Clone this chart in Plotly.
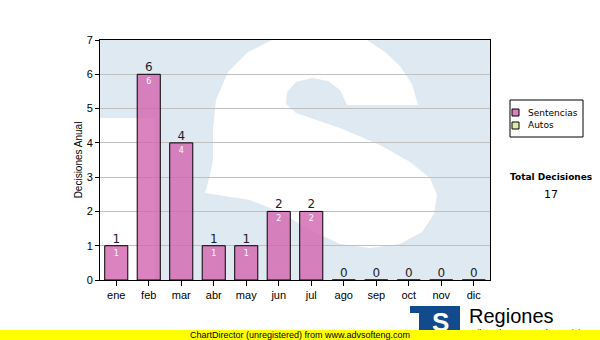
import plotly.graph_objects as go

# ---------------- data ----------------
months = ['ene', 'feb', 'mar', 'abr', 'may', 'jun', 'jul', 'ago', 'sep', 'oct', 'nov', 'dic']
sentencias = [1, 6, 4, 1, 1, 2, 2, 0, 0, 0, 0, 0]
autos = [0, 0, 0, 0, 0, 0, 0, 0, 0, 0, 0, 0]
series_names = ['Sentencias', 'Autos']
y_ticks = [0, 1, 2, 3, 4, 5, 6, 7]
y_title = 'Decisiones Anual'
total_title = 'Total Decisiones'
logo_text = 'Regiones'
logo_sub = 'Tribunal Supremo de Justicia'
footer_text = 'ChartDirector (unregistered) from www.advsofteng.com'

# ---------------- styles ----------------
W, H = 600, 340
L, R, T, B = 100, 110, 40, 60
PINK = 'rgba(210,100,175,0.80)'
PINK_SOLID = '#db7fbd'
GREEN = '#dcebaa'
WATER = '#dfe9f2'
TXT = '#1c1c2c'
SANS = 'Liberation Sans, Arial, sans-serif'
VERD = 'DejaVu Sans, Verdana, sans-serif'


def px(x):
    return (x - L) / (W - L - R)


def py(y):
    return (H - B - y) / (H - T - B)


def poly(points):
    return 'M ' + ' L '.join(f'{px(x):.5f},{py(y):.5f}' for x, y in points) + ' Z'


fig = go.Figure()

fig.add_trace(go.Bar(
    x=months, y=sentencias, name=series_names[0], showlegend=False,
    marker=dict(color=PINK, line=dict(color='black', width=1)),
    text=[str(v) if v > 0 else '' for v in sentencias],
    textposition='inside', insidetextanchor='end', textangle=0, constraintext='none',
    insidetextfont=dict(family=VERD, size=8, color='white'),
    hoverinfo='skip'))
fig.add_trace(go.Bar(
    x=months, y=autos, name=series_names[1], showlegend=False,
    marker=dict(color=GREEN, line=dict(color='black', width=0)),
    hoverinfo='skip'))

# value labels above bars
fig.add_trace(go.Scatter(
    x=months, y=sentencias, mode='text', showlegend=False, cliponaxis=False,
    text=[str(v) for v in sentencias], textposition='top center',
    textfont=dict(family=VERD, size=12, color=TXT), hoverinfo='skip'))

shapes = []
# watermark: light-blue "T" square with white S stroke
shapes.append(dict(type='path', xref='paper', yref='paper', layer='below',
                   path=poly([(100, 40), (490, 40), (490, 280), (155, 280), (155, 118), (100, 118)]),
                   fillcolor=WATER, line=dict(width=0)))
shapes.append(dict(type='path', xref='paper', yref='paper', layer='below',
                   path=poly([(272, 40), (367, 40), (385, 52), (400, 66), (412, 84), (418, 105),
                              (347, 105), (340, 90), (328, 81), (312, 78), (296, 82), (287, 92),
                              (286, 104), (296, 113), (340, 128), (380, 145), (410, 162), (430, 178),
                              (437, 195), (434, 214), (422, 232), (400, 244), (370, 248), (340, 244),
                              (310, 230), (280, 212), (250, 200), (205, 193), (210, 175), (213, 160),
                              (213, 130), (216, 100), (228, 72), (248, 52)]),
                   fillcolor='white', line=dict(width=0)))

# legend (manual)
shapes.append(dict(type='rect', xref='paper', yref='paper', x0=px(510), x1=px(583), y0=py(100), y1=py(137),
                   line=dict(color='black', width=1), fillcolor='white'))
leg_colors = [PINK_SOLID, GREEN]
annotations = []
for i, (nm, col) in enumerate(zip(series_names, leg_colors)):
    yc = 112.5 + 13 * i
    shapes.append(dict(type='rect', xref='paper', yref='paper', x0=px(512), x1=px(519),
                       y0=py(yc - 3.5), y1=py(yc + 3.5), line=dict(color='black', width=1), fillcolor=col))
    annotations.append(dict(xref='paper', yref='paper', x=px(526), y=py(yc), text=nm, showarrow=False,
                            xanchor='left', yanchor='middle', font=dict(family=VERD, size=9, color='black')))

# total
annotations.append(dict(xref='paper', yref='paper', x=px(551), y=py(177), text=f'<b>{total_title}</b>',
                        showarrow=False, xanchor='center', yanchor='middle',
                        font=dict(family=VERD, size=9, color='black')))
annotations.append(dict(xref='paper', yref='paper', x=px(551), y=py(195), text=str(sum(sentencias) + sum(autos)),
                        showarrow=False, xanchor='center', yanchor='middle',
                        font=dict(family=VERD, size=11, color='black')))

# logo
LOGO = '#124a8e'
shapes.append(dict(type='rect', xref='paper', yref='paper', x0=px(410), x1=px(460), y0=py(313), y1=py(306),
                   line=dict(width=0), fillcolor=LOGO))
shapes.append(dict(type='rect', xref='paper', yref='paper', x0=px(419), x1=px(460), y0=py(331), y1=py(313),
                   line=dict(width=0), fillcolor=LOGO))
annotations.append(dict(xref='paper', yref='paper', x=px(440), y=py(322), text='<b>S</b>', showarrow=False,
                        xanchor='center', yanchor='middle', font=dict(family=SANS, size=26, color='white')))
annotations.append(dict(xref='paper', yref='paper', x=px(467), y=py(316), text=logo_text, showarrow=False,
                        xanchor='left', yanchor='middle', font=dict(family=SANS, size=20, color='black')))
annotations.append(dict(xref='paper', yref='paper', x=px(468), y=py(327), text=logo_sub, showarrow=False,
                        xanchor='left', yanchor='top', borderpad=0,
                        font=dict(family=SANS, size=9, color='black')))
# footer band (annotation so it covers the logo subtitle)
annotations.append(dict(xref='paper', yref='paper', x=px(300), y=py(335), text=footer_text, showarrow=False,
                        xanchor='center', yanchor='middle', width=600, height=10, bgcolor='#ffff00',
                        borderpad=0, borderwidth=0, align='center',
                        font=dict(family=SANS, size=9, color='black')))

fig.update_layout(
    width=W, height=H, autosize=False,
    margin=dict(l=L, r=R, t=T, b=B, pad=0),
    paper_bgcolor='white', plot_bgcolor='white',
    barmode='overlay', bargap=0.29,
    showlegend=False,
    shapes=shapes, annotations=annotations,
    font=dict(family=SANS, size=11, color='black'),
)
fig.update_xaxes(
    type='category', range=[-0.5, len(months) - 0.5], showgrid=False,
    showline=True, linecolor='black', linewidth=1, mirror=True,
    ticks='outside', ticklen=5, tickcolor='black', tickfont=dict(family=SANS, size=11, color='black'),
    zeroline=False)
fig.update_yaxes(
    range=[0, 7], tickvals=y_ticks, showgrid=True, gridcolor='#c0c0c0', gridwidth=1,
    showline=True, linecolor='black', linewidth=1, mirror=True,
    ticks='outside', ticklen=4, tickcolor='black', tickfont=dict(family=SANS, size=11, color='black'),
    zeroline=False,
    title=dict(text=y_title, font=dict(family=SANS, size=10, color='black'), standoff=2))

fig.write_html('out.html')
